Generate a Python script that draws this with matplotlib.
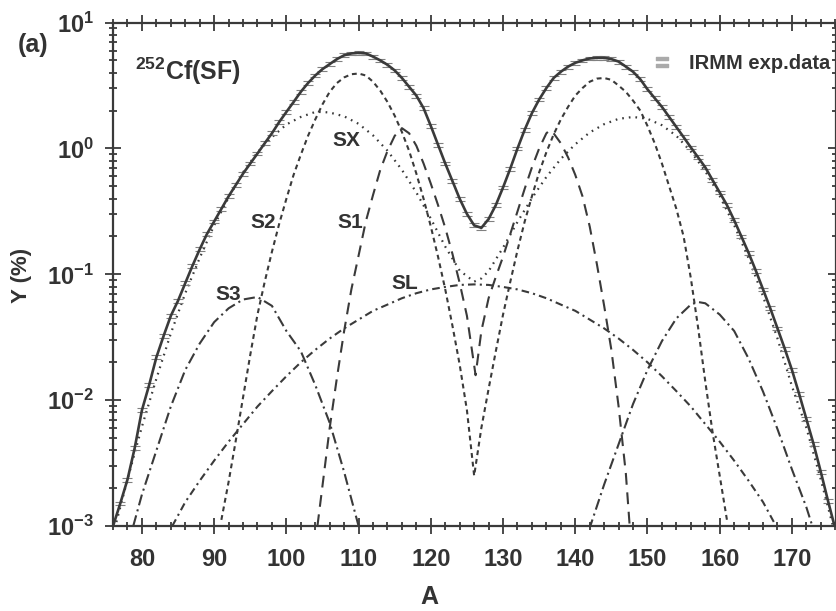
import numpy as np
import matplotlib
matplotlib.use("Agg")
import matplotlib.pyplot as plt
from matplotlib.lines import Line2D
from matplotlib.ticker import MultipleLocator, LogLocator, NullFormatter

plt.rcParams["font.family"] = ["Liberation Sans", "DejaVu Sans"]
plt.rcParams["font.weight"] = "bold"
plt.rcParams["mathtext.fontset"] = "custom"
plt.rcParams["mathtext.rm"] = "Liberation Sans:bold"
plt.rcParams["mathtext.it"] = "Liberation Sans:bold"
plt.rcParams["mathtext.bf"] = "Liberation Sans:bold"
plt.rcParams["lines.scale_dashes"] = False

# ---- data (Y in %) ----
total_a = np.arange(76, 177)
total_y = [
    0.00100, 0.00151, 0.00234, 0.00417, 0.00832, 0.0132, 0.0219, 0.0324, 0.0468, 0.0617,
    0.0851, 0.117, 0.158, 0.209, 0.263, 0.331, 0.417, 0.513, 0.631, 0.759,
    0.912, 1.10, 1.32, 1.62, 1.95, 2.34, 2.82, 3.31, 3.80, 4.27,
    4.68, 5.13, 5.50, 5.69, 5.75, 5.69, 5.37, 5.01, 4.62, 4.17,
    3.63, 3.09, 2.63, 2.09, 1.51, 1.07, 0.759, 0.550, 0.398, 0.302,
    0.245, 0.234, 0.275, 0.355, 0.490, 0.692, 1.00, 1.41, 1.91, 2.45,
    3.02, 3.63, 4.07, 4.47, 4.79, 5.01, 5.19, 5.25, 5.25, 5.13,
    4.90, 4.47, 4.07, 3.55, 2.95, 2.51, 2.14, 1.78, 1.48, 1.23,
    1.02, 0.851, 0.708, 0.562, 0.447, 0.355, 0.269, 0.200, 0.148, 0.107,
    0.0759, 0.0537, 0.0372, 0.0257, 0.0174, 0.0112, 0.00708, 0.00447, 0.00269, 0.00158,
    0.00095,
]
# IRMM points lie on the fitted total within the line width
exp_a = total_a[1:-1]
exp_y = np.array(total_y[1:-1])
exp_rel_err = 0.035

s2_a = [91, 92, 93, 94, 95, 96, 97, 98, 99, 100, 101, 102, 103, 104, 105, 106, 107, 108, 109, 110,
        111, 112, 113, 114, 115, 116, 117, 118, 119, 120, 121, 122, 123, 124, 125, 126, 127, 128, 129, 130,
        131, 132, 133, 134, 135, 136, 137, 138, 139, 140, 141, 142, 143, 144, 145, 146, 147, 148, 149, 150,
        151, 152, 153, 154, 155, 156, 157, 158, 159, 160, 161]
s2_y = [0.00112, 0.00224, 0.00479, 0.0105, 0.0229, 0.0479, 0.0871, 0.151, 0.251, 0.398,
        0.617, 0.891, 1.26, 1.70, 2.24, 2.82, 3.31, 3.67, 3.89, 3.94,
        3.80, 3.39, 2.88, 2.34, 1.82, 1.35, 0.955, 0.631, 0.398, 0.240,
        0.138, 0.0759, 0.0389, 0.0191, 0.00832, 0.00251, 0.00603, 0.0123, 0.0245, 0.0479,
        0.0871, 0.155, 0.263, 0.417, 0.646, 0.933, 1.29, 1.70, 2.14, 2.63,
        3.02, 3.39, 3.59, 3.63, 3.51, 3.16, 2.82, 2.40, 2.00, 1.51,
        1.10, 0.759, 0.501, 0.331, 0.200, 0.0933, 0.0380, 0.0141, 0.00562, 0.00251,
        0.00112]

s1_a = [104.3, 105, 106, 107, 108, 109, 110, 111, 112, 113, 114, 115, 116, 117, 118, 119, 120,
        121, 122, 123, 124, 125, 126.2, 127, 128, 129, 130, 131, 132, 133, 134, 135, 136, 136.5,
        137, 138, 139, 140, 141, 142, 143, 144, 145, 146, 147, 147.6]
s1_y = [0.00100, 0.00209, 0.00603, 0.0151, 0.0355, 0.0759, 0.141, 0.263, 0.427, 0.676,
        0.955, 1.26, 1.45, 1.32, 1.05, 0.759, 0.525, 0.355, 0.234, 0.145,
        0.0851, 0.0468, 0.0158, 0.0355, 0.0646, 0.0955, 0.138, 0.209, 0.316, 0.479,
        0.708, 1.00, 1.32, 1.40, 1.32, 1.10, 0.851, 0.617, 0.417, 0.240,
        0.120, 0.0562, 0.0251, 0.00891, 0.00263, 0.00089]

sx_a = [76, 78, 80, 82, 84, 86, 88, 90, 92, 94, 96, 98, 100, 102, 104, 105, 106, 108, 110, 112,
        114, 116, 118, 120, 122, 124, 126, 127, 128, 130, 132, 134, 136, 138, 140, 142, 144, 146, 148, 150,
        152, 154, 156, 158, 160, 162, 164, 166, 168, 170, 172, 174, 176]
sx_y = [0.00085, 0.00234, 0.00617, 0.0148, 0.0339, 0.0708, 0.135, 0.245, 0.407, 0.646,
        0.933, 1.23, 1.55, 1.78, 1.95, 1.95, 1.93, 1.80, 1.57, 1.27,
        0.959, 0.676, 0.447, 0.277, 0.166, 0.107, 0.0875, 0.0928, 0.106, 0.163,
        0.261, 0.403, 0.594, 0.826, 1.08, 1.34, 1.56, 1.72, 1.78, 1.72,
        1.53, 1.26, 0.946, 0.660, 0.419, 0.246, 0.134, 0.0668, 0.0309, 0.0129,
        0.00603, 0.00234, 0.00085]

s3_light_a = [78.8, 80, 82, 84, 86, 88, 90, 92, 94, 96, 98, 100, 102, 104, 106, 108, 110]
s3_light_y = [0.00100, 0.00178, 0.00398, 0.00891, 0.0174, 0.0282, 0.0417, 0.0537, 0.0631, 0.0661,
              0.0562, 0.0355, 0.0245, 0.0132, 0.00661, 0.00269, 0.00100]
s3_heavy_a = [141.9, 144, 146, 148, 150, 152, 154, 156, 157, 158, 160, 162, 164, 166, 168, 170, 172, 173]
s3_heavy_y = [0.00093, 0.00214, 0.00447, 0.00933, 0.0174, 0.0295, 0.0447, 0.0575, 0.0603, 0.0589,
              0.0479, 0.0355, 0.0214, 0.0117, 0.00589, 0.00282, 0.00141, 0.00093]

sl_a = [84.2, 86, 88, 90, 92, 94, 96, 98, 100, 102, 104, 106, 108, 110, 112, 114, 116, 118, 120,
        122, 124, 126, 128, 130, 132, 134, 136, 138, 140, 142, 144, 146, 148, 150, 152, 154, 156,
        158, 160, 162, 164, 166, 167.8]
sl_y = [0.00100, 0.00155, 0.00229, 0.00331, 0.00468, 0.00646, 0.00891, 0.0118, 0.0155, 0.0200,
        0.0251, 0.0309, 0.0372, 0.0437, 0.0513, 0.0575, 0.0646, 0.0708, 0.0759, 0.0794,
        0.0824, 0.0832, 0.0824, 0.0794, 0.0759, 0.0708, 0.0646, 0.0575, 0.0513, 0.0437,
        0.0372, 0.0309, 0.0251, 0.0200, 0.0155, 0.0118, 0.00891, 0.00646, 0.00468, 0.00331,
        0.00229, 0.00155, 0.00100]

y_ticks = [1e-3, 1e-2, 1e-1, 1e0, 1e1]
y_labels = [r"$10^{-3}$", r"$10^{-2}$", r"$10^{-1}$", r"$10^{0}$", r"$10^{1}$"]

INK = "#3a3a3a"
TXT = "#333333"

fig = plt.figure(figsize=(8.36, 6.11), dpi=100)
ax = fig.add_axes([0.1352, 0.139, 0.8648, 0.824])
ax.set_yscale("log")
ax.set_xlim(76, 176.1)
ax.set_ylim(1e-3, 1e1)

# components
ax.plot(s2_a, s2_y, color=INK, lw=1.5, ls=(0, (3.5, 2.8)))
ax.plot(s1_a, s1_y, color=INK, lw=1.5, ls=(0, (8.5, 5.5)))
ax.plot(sx_a, sx_y, color=INK, lw=1.6, ls=(0, (1.2, 3.6)))
ax.plot(s3_light_a, s3_light_y, color=INK, lw=1.5, ls=(0, (8, 3, 1.5, 3)))
ax.plot(s3_heavy_a, s3_heavy_y, color=INK, lw=1.5, ls=(0, (8, 3, 1.5, 3)))
ax.plot(sl_a, sl_y, color=INK, lw=1.5, ls=(0, (5.5, 3, 1.5, 3)))

# experimental points and total
ax.errorbar(exp_a, exp_y, yerr=exp_y * exp_rel_err, fmt="none", ecolor="#808080",
            elinewidth=0.3, capsize=3.5, capthick=0.8)
ax.plot(total_a, total_y, color=INK, lw=1.9)

# axes styling
ax.xaxis.set_major_locator(MultipleLocator(10))
ax.xaxis.set_minor_locator(MultipleLocator(2))
ax.set_yticks(y_ticks)
ax.set_yticklabels(y_labels)
ax.yaxis.set_minor_locator(LogLocator(base=10, subs=np.arange(2, 10)))
ax.yaxis.set_minor_formatter(NullFormatter())
for s in ax.spines.values():
    s.set_color(INK)
    s.set_linewidth(1.6)
ax.tick_params(which="both", top=True, right=True, color=INK, width=1.3)
ax.tick_params(axis="x", which="major", direction="inout", length=11, pad=10,
               labelsize=17, labelcolor=TXT)
ax.tick_params(axis="x", which="minor", direction="inout", length=6)
ax.tick_params(axis="y", which="major", direction="inout", length=11, pad=8,
               labelsize=17, labelcolor=TXT)
ax.tick_params(axis="y", which="minor", direction="inout", length=6)

# text
tk = dict(color=TXT, fontweight="bold")
ax.text(108.3, 1.16, "SX", ha="center", va="center", fontsize=15, **tk)
ax.text(96.8, 0.259, "S2", ha="center", va="center", fontsize=15, **tk)
ax.text(108.8, 0.259, "S1", ha="center", va="center", fontsize=15, **tk)
ax.text(91.9, 0.069, "S3", ha="center", va="center", fontsize=15, **tk)
ax.text(116.4, 0.085, "SL", ha="center", va="center", fontsize=15, **tk)
ax.text(0.030, 0.886, r"$^{252}$Cf(SF)", transform=ax.transAxes, ha="left",
        va="baseline", fontsize=18, **tk)

key = Line2D([], [], ls="none", marker="$=$", markersize=9, color="#aaaaaa")
leg = ax.legend([key], ["IRMM exp.data"], loc="center left",
                bbox_to_anchor=(0.742, 0.918), frameon=False, handlelength=1.2,
                handletextpad=0.75, borderpad=0, borderaxespad=0,
                prop={"size": 14.5, "weight": "bold"})
for t in leg.get_texts():
    t.set_color(TXT)

fig.text(0.0215, 0.926, "(a)", ha="left", va="center", fontsize=18, **tk)
fig.text(0.026, 0.55, "Y (%)", rotation=90, ha="center", va="center", fontsize=16, **tk)
fig.text(0.514, 0.023, "A", ha="center", va="center", fontsize=18, **tk)

fig.savefig("out.png", dpi=100)
